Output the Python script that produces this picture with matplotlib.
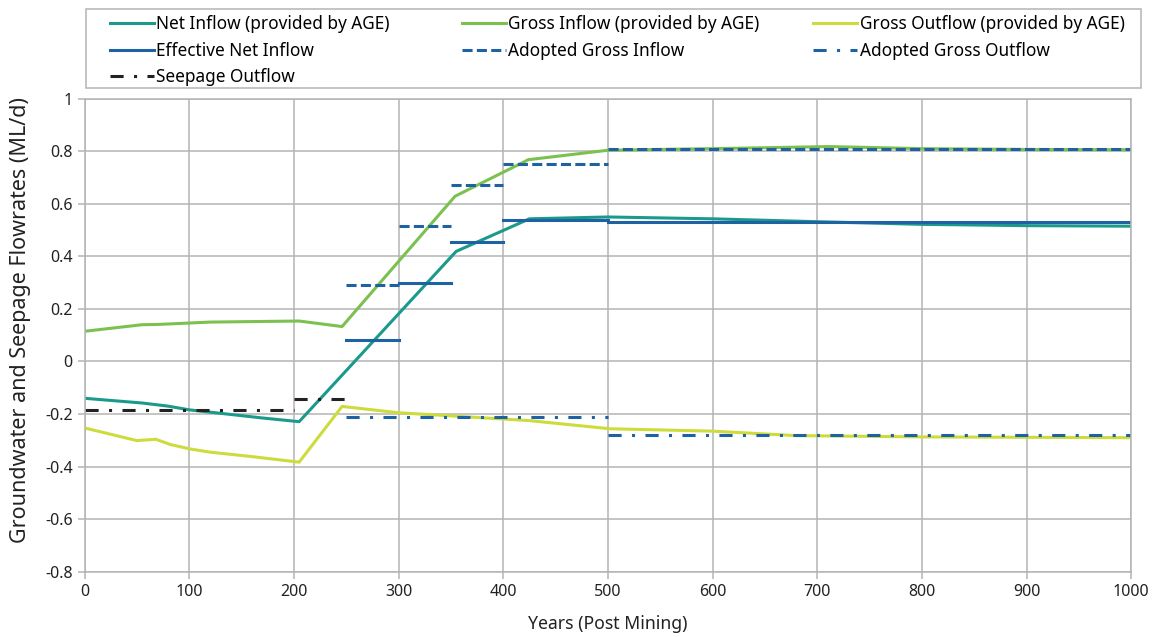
import matplotlib
matplotlib.use("Agg")
import matplotlib.pyplot as plt
import numpy as np
from matplotlib.patches import Rectangle
from matplotlib.ticker import FuncFormatter

# AGE model curves
net_years = [0, 55, 80, 100, 170, 205, 355, 425, 500, 600, 700, 800, 900, 1000]
net_inflow = [-0.14, -0.158, -0.17, -0.184, -0.215, -0.229, 0.419, 0.543, 0.55,
              0.543, 0.532, 0.522, 0.517, 0.515]

gin_years = [0, 55, 70, 120, 205, 246, 354, 424, 500, 600, 712, 800, 900, 1000]
gross_inflow = [0.115, 0.14, 0.141, 0.15, 0.154, 0.133, 0.629, 0.768, 0.804,
                0.81, 0.818, 0.81, 0.807, 0.806]

gout_years = [0, 50, 68, 82, 101, 120, 160, 205, 246, 300, 425, 502, 600, 679, 800, 1000]
gross_outflow = [-0.253, -0.301, -0.296, -0.316, -0.333, -0.345, -0.362, -0.383,
                 -0.171, -0.195, -0.225, -0.256, -0.265, -0.282, -0.287, -0.29]

# adopted step values (period edges + value per period)
eff_edges = [250, 300, 350, 400, 500, 1000]
eff_net_inflow = [0.08, 0.30, 0.455, 0.54, 0.53]

adopt_in_edges = [250, 300, 350, 400, 500, 1000]
adopt_gross_inflow = [0.293, 0.515, 0.67, 0.753, 0.808]

adopt_out_edges = [250, 500, 1000]
adopt_gross_outflow = [-0.21, -0.28]

seep_edges = [0, 200, 250]
seepage_outflow = [-0.183, -0.143]


def steps(edges, vals):
    # one horizontal segment per period, separated by NaN
    xs, ys = [], []
    for i, v in enumerate(vals):
        xs += [edges[i], edges[i + 1], np.nan]
        ys += [v, v, np.nan]
    return xs, ys


c_net = "#1b9a8c"
c_gin = "#7cc150"
c_gout = "#cddc3c"
c_blue = "#1f62a3"
c_seep = "#222222"
c_text = "#222222"
c_grid = "#b4b4b4"

plt.rcParams["font.family"] = ["Noto Sans", "DejaVu Sans"]

W, H = 1159, 637
fig = plt.figure(figsize=(W / 100, H / 100), dpi=100)
ax = fig.add_axes([0.073, 0.1025, 0.903, 0.7425])

lw = 2.2
h_net, = ax.plot(net_years, net_inflow, color=c_net, lw=lw,
                 label="Net Inflow (provided by AGE)")
h_gin, = ax.plot(gin_years, gross_inflow, color=c_gin, lw=lw,
                 label="Gross Inflow (provided by AGE)")
h_gout, = ax.plot(gout_years, gross_outflow, color=c_gout, lw=lw,
                  label="Gross Outflow (provided by AGE)")

x, y = steps(eff_edges, eff_net_inflow)
h_eff, = ax.plot(x, y, color=c_blue, lw=lw, label="Effective Net Inflow")
x, y = steps(adopt_in_edges, adopt_gross_inflow)
h_ain, = ax.plot(x, y, color=c_blue, lw=lw, dashes=(3.3, 1.4),
                 label="Adopted Gross Inflow")
x, y = steps(adopt_out_edges, adopt_gross_outflow)
h_aout, = ax.plot(x, y, color=c_blue, lw=lw, dashes=(4.3, 3.4, 1.0, 3.4),
                  label="Adopted Gross Outflow")
x, y = steps(seep_edges, seepage_outflow)
h_seep, = ax.plot(x, y, color=c_seep, lw=lw, dashes=(4.3, 3.4, 1.0, 3.4),
                  label="Seepage Outflow")

ax.set_xlim(0, 1000)
ax.set_ylim(-0.8, 1.0)
ax.set_xticks(np.arange(0, 1001, 100))
ax.set_yticks(np.arange(-0.8, 1.01, 0.2))
ax.yaxis.set_major_formatter(FuncFormatter(
    lambda v, p: f"{v:.1f}".rstrip("0").rstrip(".") if abs(v) > 1e-9 else "0"))
ax.grid(True, color=c_grid, lw=1.1)
ax.set_axisbelow(True)
for s in ax.spines.values():
    s.set_color(c_grid)
    s.set_linewidth(1.1)
ax.tick_params(axis="both", colors=c_grid, labelcolor=c_text,
               labelsize=11.5, length=5, width=1.1)
ax.tick_params(axis="x", pad=4)

ax.set_xlabel("Years (Post Mining)", fontsize=12.7, color=c_text, labelpad=11)
ax.set_ylabel("Groundwater and Seepage Flowrates (ML/d)", fontsize=15.5,
              color=c_text)
ax.yaxis.set_label_coords((31 - 84.7) / 1046, 0.533)

# legend: frame drawn separately, one legend per column so the columns sit
# on a fixed grid
fig.patches.append(Rectangle((86 / W, 1 - 88 / H), 1055 / W, 79 / H,
                             transform=fig.transFigure, fill=False,
                             edgecolor=c_grid, lw=1.1))
columns = [[h_net, h_eff, h_seep], [h_gin, h_ain], [h_gout, h_aout]]
col_x = [110, 462, 813]
for hs, cx in zip(columns, col_x):
    fig.legend(handles=hs, labels=[h.get_label() for h in hs],
               loc="upper left", bbox_to_anchor=(cx / W, 1 - 15 / H),
               fontsize=12.4, frameon=False, handlelength=2.55,
               handletextpad=0.15, borderpad=0, labelspacing=0.5,
               borderaxespad=0)

fig.savefig("out.png", dpi=100)
